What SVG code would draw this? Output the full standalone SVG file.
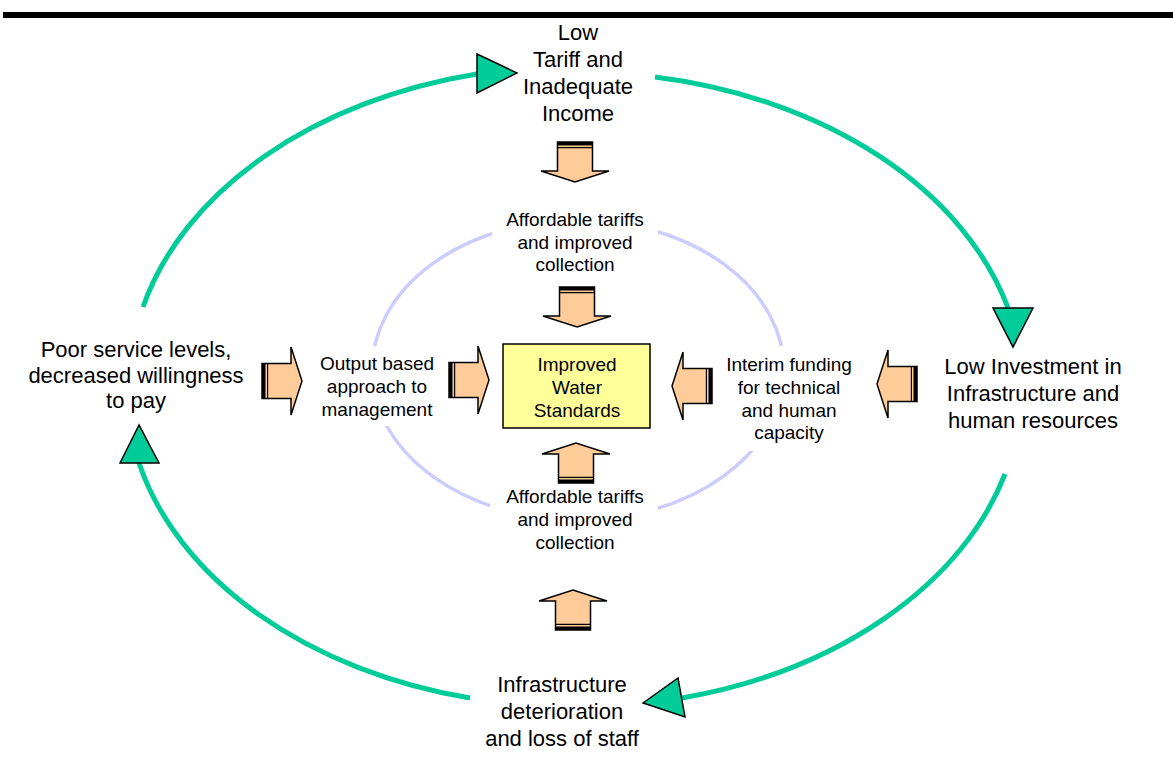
<svg xmlns="http://www.w3.org/2000/svg" width="1173" height="760" viewBox="0 0 1173 760">
  <style>
    text { font-family: "Liberation Sans", Arial, sans-serif; fill: #000; text-anchor: middle; }
    .main { font-size: 22px; }
    .inner { font-size: 19px; }
    .loop { fill: none; stroke: #00CC99; stroke-width: 5; }
    .tri { fill: #00CC99; stroke: #000; stroke-width: 1.5; stroke-linejoin: miter; }
    .mask { fill: #fff; }
  </style>
  <defs>
    <g id="blockArrow">
      <polygon points="-17.5,0 17.5,0 17.5,29 34,29 0,40 -34,29 -17.5,29" fill="#FFCC99" stroke="#000" stroke-width="1.5" stroke-linejoin="miter"/>
      <rect x="-17.5" y="0" width="35" height="3.5" fill="#000"/>
      <line x1="-17.5" y1="5.6" x2="17.5" y2="5.6" stroke="#000" stroke-width="1.2"/>
    </g>
  </defs>

  <rect x="3" y="12" width="1170" height="6" fill="#000"/>

  <!-- inner lavender ellipse -->
  <g id="inner-ring">
    <ellipse cx="578" cy="370" rx="206" ry="150" fill="none" stroke="#CCCCFF" stroke-width="3.5"/>
    <rect class="mask" x="492" y="204" width="166" height="76"/>
    <rect class="mask" x="490" y="486" width="168" height="74"/>
    <rect class="mask" x="312" y="346" width="132" height="80"/>
    <rect class="mask" x="718" y="346" width="145" height="105"/>
  </g>

  <!-- connectors -->
  <g id="connectors">
    <path class="loop" d="M143,307 A445,318 0 0 1 477,74"/>
    <path class="loop" d="M655,77 A445,318 0 0 1 1008,308"/>
    <path class="loop" d="M1005,474 A445,318 0 0 1 682,698"/>
    <path class="loop" d="M470,698 A445,318 0 0 1 139,463"/>
    <polygon class="tri" points="477,54 477,93 517,73"/>
    <polygon class="tri" points="993,308 1033,308 1013,347"/>
    <polygon class="tri" points="643,703 678,678 685,717"/>
    <polygon class="tri" points="139,425 120,463 159,463"/>

    <use href="#blockArrow" transform="translate(575,142)"/>
    <use href="#blockArrow" transform="translate(577,287)"/>
    <use href="#blockArrow" transform="translate(576,483) rotate(180)"/>
    <use href="#blockArrow" transform="translate(573,630) rotate(180)"/>
    <use href="#blockArrow" transform="translate(262,381) rotate(-90)"/>
    <use href="#blockArrow" transform="translate(449,380) rotate(-90)"/>
    <use href="#blockArrow" transform="translate(712,386) rotate(90)"/>
    <use href="#blockArrow" transform="translate(917,384) rotate(90)"/>
  </g>

  <g id="node-low-tariff">
    <text class="main" x="578" y="40">Low</text>
    <text class="main" x="578" y="67">Tariff and</text>
    <text class="main" x="578" y="94">Inadequate</text>
    <text class="main" x="578" y="121">Income</text>
  </g>

  <g id="node-low-investment">
    <text class="main" x="1033" y="374">Low Investment in</text>
    <text class="main" x="1033" y="401">Infrastructure and</text>
    <text class="main" x="1033" y="428">human resources</text>
  </g>

  <g id="node-deterioration">
    <text class="main" x="562" y="692">Infrastructure</text>
    <text class="main" x="562" y="719">deterioration</text>
    <text class="main" x="562" y="746">and loss of staff</text>
  </g>

  <g id="node-poor-service">
    <text class="main" x="136" y="357">Poor service levels,</text>
    <text class="main" x="136" y="383">decreased willingness</text>
    <text class="main" x="136" y="408">to pay</text>
  </g>

  <g id="node-improved">
    <rect x="503" y="344" width="147" height="84" fill="#FFFF99" stroke="#000" stroke-width="1.5"/>
    <text class="inner" x="577" y="371">Improved</text>
    <text class="inner" x="577" y="394">Water</text>
    <text class="inner" x="577" y="417">Standards</text>
  </g>

  <g id="node-affordable-top">
    <text class="inner" x="575" y="226">Affordable tariffs</text>
    <text class="inner" x="575" y="248.5">and improved</text>
    <text class="inner" x="575" y="271">collection</text>
  </g>

  <g id="node-affordable-bottom">
    <text class="inner" x="575" y="503">Affordable tariffs</text>
    <text class="inner" x="575" y="526">and improved</text>
    <text class="inner" x="575" y="549">collection</text>
  </g>

  <g id="node-output-based">
    <text class="inner" x="377" y="370">Output based</text>
    <text class="inner" x="377" y="393">approach to</text>
    <text class="inner" x="377" y="416">management</text>
  </g>

  <g id="node-interim">
    <text class="inner" x="789" y="371">Interim funding</text>
    <text class="inner" x="789" y="394">for technical</text>
    <text class="inner" x="789" y="416.5">and human</text>
    <text class="inner" x="789" y="439">capacity</text>
  </g>
</svg>
